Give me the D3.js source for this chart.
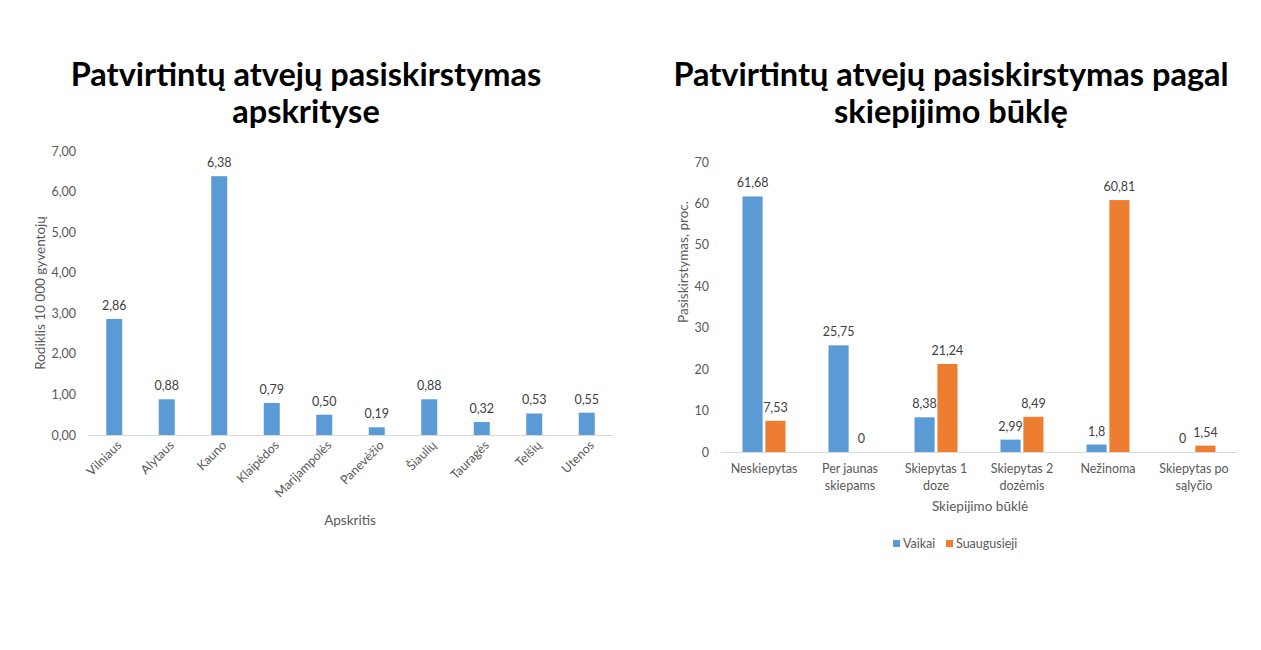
<!DOCTYPE html>
<html>
<head>
<meta charset="utf-8">
<script src="https://cdn.jsdelivr.net/npm/d3@7"></script>
<style>
  body { margin: 0; background: #fff; }
  svg text { font-family: Lato, "Open Sans", sans-serif; }
</style>
</head>
<body>
<div id="chart"></div>
<script>
// kairė diagrama - apskritys
const regions = ["Vilniaus", "Alytaus", "Kauno", "Klaipėdos", "Marijampolės", "Panevėžio", "Šiaulių", "Tauragės", "Telšių", "Utenos"];
const regionValues = [2.86, 0.88, 6.38, 0.79, 0.50, 0.19, 0.88, 0.32, 0.53, 0.55];
const leftTicks = [0, 1, 2, 3, 4, 5, 6, 7];

// dešinė diagrama - skiepijimo būklė
const statuses = [["Neskiepytas"], ["Per jaunas", "skiepams"], ["Skiepytas 1", "doze"], ["Skiepytas 2", "dozėmis"], ["Nežinoma"], ["Skiepytas po", "sąlyčio"]];
const series = ["Vaikai", "Suaugusieji"];
const vaikai = [61.68, 25.75, 8.38, 2.99, 1.8, 0];
const suaugusieji = [7.53, 0, 21.24, 8.49, 60.81, 1.54];
const rightTicks = [0, 10, 20, 30, 40, 50, 60, 70];

const colors = ["#5B9BD5", "#ED7D31"];
const textCol = "#595959";
const fmt2 = v => v.toFixed(2).replace(".", ",");
const fmtR = v => String(v).replace(".", ",");

const width = 1261, height = 650;
const svg = d3.select("#chart").append("svg")
    .attr("width", width)
    .attr("height", height);

// ---------- kairė ----------
const L = {left: 88, right: 613, top: 151, bottom: 435};

const x1 = d3.scaleBand()
    .domain(regions)
    .range([L.left, L.right]);

const y1 = d3.scaleLinear()
    .domain([0, 7])
    .range([L.bottom, L.top]);

const titleL = svg.append("text")
    .attr("x", 306).attr("y", 86)
    .attr("text-anchor", "middle")
    .attr("font-size", 32.5).attr("font-weight", "bold").attr("fill", "#000");
titleL.append("tspan").attr("x", 306).text("Patvirtintų atvejų pasiskirstymas");
titleL.append("tspan").attr("x", 306).attr("dy", 37).text("apskrityse");

const gL = svg.append("g");

gL.append("g")
    .attr("transform", `translate(${L.left - 4},0)`)
    .call(d3.axisLeft(y1).tickValues(leftTicks).tickFormat(fmt2).tickSize(0).tickPadding(8))
    .call(g => g.select(".domain").remove())
    .selectAll("text")
    .attr("font-size", 12.5).attr("fill", textCol).attr("font-family", "Lato, sans-serif");

gL.selectAll("rect")
    .data(regionValues)
    .join("rect")
    .attr("x", (d, i) => x1(regions[i]) + x1.bandwidth() / 2 - 8)
    .attr("width", 16)
    .attr("y", d => y1(d))
    .attr("height", d => y1(0) - y1(d))
    .attr("fill", colors[0]);

gL.selectAll(".lbl")
    .data(regionValues)
    .join("text")
    .attr("class", "lbl")
    .attr("x", (d, i) => x1(regions[i]) + x1.bandwidth() / 2)
    .attr("y", d => y1(d) - 9)
    .attr("text-anchor", "middle")
    .attr("font-size", 12.5).attr("fill", "#404040")
    .text(d => fmt2(d));

const xAxL = gL.append("g")
    .attr("transform", `translate(0,${L.bottom})`)
    .call(d3.axisBottom(x1).tickSize(0).tickPadding(0));
xAxL.select(".domain").attr("stroke", "#d9d9d9");
xAxL.selectAll("text")
    .attr("font-size", 12.5).attr("fill", textCol).attr("font-family", "Lato, sans-serif")
    .attr("text-anchor", "end")
    .attr("dy", 0)
    .attr("transform", "translate(8,11) rotate(-45)");

gL.append("text")
    .attr("x", 350).attr("y", 525)
    .attr("text-anchor", "middle")
    .attr("font-size", 13.5).attr("fill", textCol)
    .text("Apskritis");

gL.append("text")
    .attr("transform", "translate(45,293) rotate(-90)")
    .attr("text-anchor", "middle")
    .attr("font-size", 13.5).attr("fill", textCol)
    .text("Rodiklis 10 000 gyventojų");

// ---------- dešinė ----------
const R = {left: 721, right: 1237, top: 162, bottom: 452};
const keys = statuses.map(s => s.join(" "));

const x2 = d3.scaleBand()
    .domain(keys)
    .range([R.left, R.right]);

const xs = d3.scaleBand()
    .domain(series)
    .range([x2.bandwidth() / 2 - 21.5, x2.bandwidth() / 2 + 21.5])
    .paddingInner(0.12);

const y2 = d3.scaleLinear()
    .domain([0, 70])
    .range([R.bottom, R.top]);

const titleR = svg.append("text")
    .attr("x", 951).attr("y", 86)
    .attr("text-anchor", "middle")
    .attr("font-size", 32.5).attr("font-weight", "bold").attr("fill", "#000");
titleR.append("tspan").attr("x", 951).text("Patvirtintų atvejų pasiskirstymas pagal");
titleR.append("tspan").attr("x", 951).attr("dy", 37).text("skiepijimo būklę");

const gR = svg.append("g");

gR.append("g")
    .attr("transform", `translate(${R.left - 4},0)`)
    .call(d3.axisLeft(y2).tickValues(rightTicks).tickSize(0).tickPadding(8))
    .call(g => g.select(".domain").remove())
    .selectAll("text")
    .attr("font-size", 12.5).attr("fill", textCol).attr("font-family", "Lato, sans-serif");

const rows = keys.map((k, i) => [
    {key: k, s: series[0], v: vaikai[i]},
    {key: k, s: series[1], v: suaugusieji[i]}
]).flat();

gR.selectAll("rect")
    .data(rows)
    .join("rect")
    .attr("x", d => x2(d.key) + xs(d.s))
    .attr("width", xs.bandwidth())
    .attr("y", d => y2(d.v))
    .attr("height", d => y2(0) - y2(d.v))
    .attr("fill", d => colors[series.indexOf(d.s)]);

gR.selectAll(".lbl")
    .data(rows)
    .join("text")
    .attr("class", "lbl")
    .attr("x", d => x2(d.key) + xs(d.s) + xs.bandwidth() / 2)
    .attr("y", d => y2(d.v) - 9)
    .attr("text-anchor", "middle")
    .attr("font-size", 12.5).attr("fill", "#404040")
    .text(d => fmtR(d.v));

const xAxR = gR.append("g")
    .attr("transform", `translate(0,${R.bottom})`)
    .call(d3.axisBottom(x2).tickSize(0).tickPadding(0));
xAxR.select(".domain").attr("stroke", "#d9d9d9");
xAxR.selectAll(".tick text").each(function(d, i) {
    const t = d3.select(this).text("")
        .attr("font-size", 12.5).attr("fill", textCol).attr("font-family", "Lato, sans-serif")
        .attr("dy", 0).attr("y", 21);
    statuses[i].forEach((line, j) => {
        t.append("tspan").attr("x", 0).attr("dy", j === 0 ? 0 : 17).text(line);
    });
});

gR.append("text")
    .attr("x", 980).attr("y", 511)
    .attr("text-anchor", "middle")
    .attr("font-size", 13.5).attr("fill", textCol)
    .text("Skiepijimo būklė");

gR.append("text")
    .attr("transform", "translate(688,262) rotate(-90)")
    .attr("text-anchor", "middle")
    .attr("font-size", 13.5).attr("fill", textCol)
    .text("Pasiskirstymas, proc.");

// legenda
const legend = gR.append("g").attr("transform", "translate(893,544)");
const legX = [0, 53];
series.forEach((s, i) => {
    const it = legend.append("g").attr("transform", `translate(${legX[i]},0)`);
    it.append("rect").attr("x", 0).attr("y", -4).attr("width", 7).attr("height", 7).attr("fill", colors[i]);
    it.append("text").attr("x", 10).attr("y", 4)
        .attr("font-size", 12.5).attr("fill", textCol)
        .text(s);
});
</script>
</body>
</html>
